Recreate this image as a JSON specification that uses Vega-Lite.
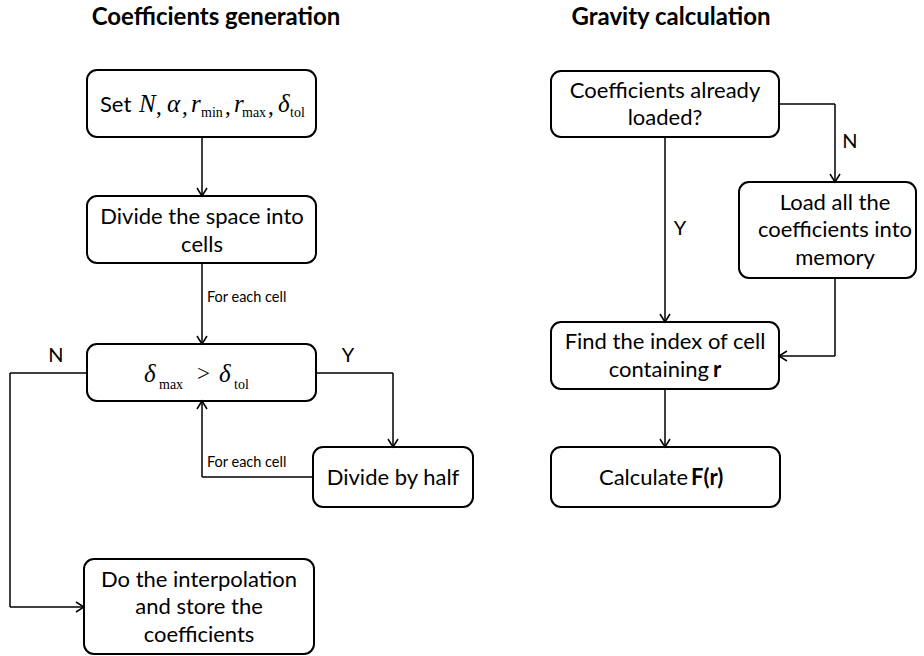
{
  "$schema": "https://vega.github.io/schema/vega-lite/v6.json",
  "width": 924,
  "height": 656,
  "autosize": {"type": "none"},
  "padding": 0,
  "background": "white",
  "config": {"view": {"stroke": null}},
  "datasets": {
    "boxes": [
      {"x": 87, "x2": 316, "y": 70, "y2": 137},
      {"x": 87, "x2": 316, "y": 196, "y2": 263},
      {"x": 87, "x2": 316, "y": 344, "y2": 401},
      {"x": 313, "x2": 473, "y": 447, "y2": 507},
      {"x": 84, "x2": 314, "y": 559, "y2": 654},
      {"x": 551, "x2": 779, "y": 71, "y2": 137},
      {"x": 739, "x2": 916, "y": 182, "y2": 278},
      {"x": 551, "x2": 779, "y": 322, "y2": 389},
      {"x": 551, "x2": 780, "y": 447, "y2": 507}
    ],
    "lines": [
      {"x": 202, "y": 137, "x2": 202, "y2": 196},
      {"x": 202, "y": 263, "x2": 202, "y2": 344},
      {"x": 87, "y": 373, "x2": 10, "y2": 373},
      {"x": 10, "y": 373, "x2": 10, "y2": 607},
      {"x": 10, "y": 607, "x2": 84, "y2": 607},
      {"x": 316, "y": 373, "x2": 393, "y2": 373},
      {"x": 393, "y": 373, "x2": 393, "y2": 447},
      {"x": 313, "y": 477, "x2": 202, "y2": 477},
      {"x": 202, "y": 477, "x2": 202, "y2": 401},
      {"x": 665, "y": 137, "x2": 665, "y2": 322},
      {"x": 779, "y": 104, "x2": 835, "y2": 104},
      {"x": 835, "y": 104, "x2": 835, "y2": 182},
      {"x": 835, "y": 278, "x2": 835, "y2": 356},
      {"x": 835, "y": 356, "x2": 779, "y2": 356},
      {"x": 665, "y": 389, "x2": 665, "y2": 447}
    ],
    "arrows": [
      {"x": 202, "y": 196, "dir": 0},
      {"x": 202, "y": 344, "dir": 0},
      {"x": 84, "y": 607, "dir": 270},
      {"x": 393, "y": 447, "dir": 0},
      {"x": 202, "y": 401, "dir": 180},
      {"x": 665, "y": 322, "dir": 0},
      {"x": 835, "y": 182, "dir": 0},
      {"x": 779, "y": 356, "dir": 90},
      {"x": 665, "y": 447, "dir": 0}
    ],
    "titles": [
      {"x": 216, "y": 18, "t": "Coefficients generation"},
      {"x": 671, "y": 18, "t": "Gravity calculation"}
    ],
    "body": [
      {"x": 202, "y": 217, "t": "Divide the space into"},
      {"x": 202, "y": 245, "t": "cells"},
      {"x": 393, "y": 478, "t": "Divide by half"},
      {"x": 199, "y": 580, "t": "Do the interpolation"},
      {"x": 199, "y": 607, "t": "and store the"},
      {"x": 199, "y": 635, "t": "coefficients"},
      {"x": 665, "y": 91, "t": "Coefficients already"},
      {"x": 665, "y": 118, "t": "loaded?"},
      {"x": 835, "y": 203, "t": "Load all the"},
      {"x": 835, "y": 230, "t": "coefficients into"},
      {"x": 835, "y": 258, "t": "memory"},
      {"x": 665, "y": 342, "t": "Find the index of cell"}
    ],
    "bodyRight": [
      {"x": 709, "y": 370, "t": "containing"},
      {"x": 688, "y": 478, "t": "Calculate"}
    ],
    "boldLeft": [
      {"x": 713, "y": 370, "t": "r"},
      {"x": 691, "y": 478, "t": "F(r)"}
    ],
    "labels": [
      {"x": 56, "y": 356, "t": "N"},
      {"x": 348, "y": 356, "t": "Y"},
      {"x": 680, "y": 229, "t": "Y"},
      {"x": 850, "y": 142, "t": "N"}
    ],
    "small": [
      {"x": 207, "y": 298, "t": "For each cell"},
      {"x": 207, "y": 463, "t": "For each cell"}
    ],
    "setword": [
      {"x": 100, "y": 112, "t": "Set"}
    ],
    "mathIt": [
      {"x": 139, "y": 112, "t": "N"},
      {"x": 167, "y": 112, "t": "α"},
      {"x": 191, "y": 112, "t": "r"},
      {"x": 234, "y": 112, "t": "r"},
      {"x": 278, "y": 112, "t": "δ"},
      {"x": 144, "y": 382, "t": "δ"},
      {"x": 219, "y": 382, "t": "δ"}
    ],
    "mathUp": [
      {"x": 156, "y": 114, "t": ","},
      {"x": 182, "y": 114, "t": ","},
      {"x": 225, "y": 114, "t": ","},
      {"x": 268, "y": 114, "t": ","},
      {"x": 197, "y": 381, "t": ">"}
    ],
    "mathSub": [
      {"x": 201, "y": 117, "t": "min"},
      {"x": 242, "y": 117, "t": "max"},
      {"x": 290, "y": 117, "t": "tol"},
      {"x": 159, "y": 389, "t": "max"},
      {"x": 234, "y": 389, "t": "tol"}
    ]
  },
  "encoding": {
    "x": {"field": "x", "type": "quantitative", "scale": {"domain": [0, 924], "nice": false, "zero": false}, "axis": null},
    "y": {"field": "y", "type": "quantitative", "scale": {"domain": [0, 656], "nice": false, "zero": false, "reverse": true}, "axis": null}
  },
  "layer": [
    {
      "data": {"name": "lines"},
      "mark": {"type": "rule", "color": "black", "strokeWidth": 1.5},
      "encoding": {"x2": {"field": "x2"}, "y2": {"field": "y2"}}
    },
    {
      "data": {"name": "boxes"},
      "mark": {"type": "rect", "fill": "white", "stroke": "black", "strokeWidth": 2, "cornerRadius": 10},
      "encoding": {"x2": {"field": "x2"}, "y2": {"field": "y2"}}
    },
    {
      "data": {"name": "arrows"},
      "mark": {"type": "point", "shape": "M-1,-1.6L0,0L1,-1.6", "filled": false, "stroke": "black", "strokeWidth": 1.5, "size": 100, "opacity": 1},
      "encoding": {"angle": {"field": "dir", "type": "quantitative", "scale": null}}
    },
    {
      "data": {"name": "titles"},
      "mark": {"type": "text", "font": "Lato", "fontWeight": "bold", "fontSize": 24, "align": "center", "baseline": "middle", "color": "black"},
      "encoding": {"text": {"field": "t"}}
    },
    {
      "data": {"name": "body"},
      "mark": {"type": "text", "font": "Lato", "fontSize": 22, "align": "center", "baseline": "middle", "color": "black"},
      "encoding": {"text": {"field": "t"}}
    },
    {
      "data": {"name": "bodyRight"},
      "mark": {"type": "text", "font": "Lato", "fontSize": 22, "align": "right", "baseline": "middle", "color": "black"},
      "encoding": {"text": {"field": "t"}}
    },
    {
      "data": {"name": "boldLeft"},
      "mark": {"type": "text", "font": "Lato", "fontSize": 22, "fontWeight": "bold", "align": "left", "baseline": "middle", "color": "black"},
      "encoding": {"text": {"field": "t"}}
    },
    {
      "data": {"name": "labels"},
      "mark": {"type": "text", "font": "Lato", "fontSize": 20, "align": "center", "baseline": "middle", "color": "black"},
      "encoding": {"text": {"field": "t"}}
    },
    {
      "data": {"name": "small"},
      "mark": {"type": "text", "font": "Lato", "fontSize": 14.5, "align": "left", "baseline": "middle", "color": "black"},
      "encoding": {"text": {"field": "t"}}
    },
    {
      "data": {"name": "setword"},
      "mark": {"type": "text", "font": "Lato", "fontSize": 22, "align": "left", "baseline": "alphabetic", "color": "black"},
      "encoding": {"text": {"field": "t"}}
    },
    {
      "data": {"name": "mathIt"},
      "mark": {"type": "text", "font": "Liberation Serif", "fontStyle": "italic", "fontSize": 25, "align": "left", "baseline": "alphabetic", "color": "black"},
      "encoding": {"text": {"field": "t"}}
    },
    {
      "data": {"name": "mathUp"},
      "mark": {"type": "text", "font": "Liberation Serif", "fontSize": 23, "align": "left", "baseline": "alphabetic", "color": "black"},
      "encoding": {"text": {"field": "t"}}
    },
    {
      "data": {"name": "mathSub"},
      "mark": {"type": "text", "font": "Liberation Serif", "fontSize": 14, "align": "left", "baseline": "alphabetic", "color": "black"},
      "encoding": {"text": {"field": "t"}}
    }
  ]
}
